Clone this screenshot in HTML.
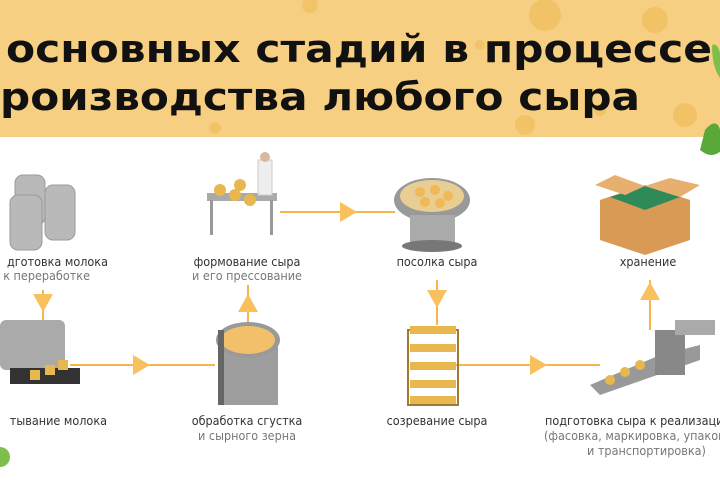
<!DOCTYPE html>
<html><head><meta charset="utf-8"><style>
html,body{margin:0;padding:0;background:#fff;width:720px;height:480px;overflow:hidden}
svg{display:block}
.t{font-family:"DejaVu Sans","Liberation Sans",sans-serif;font-weight:bold;font-size:38px;fill:#111}
.l{font-family:"DejaVu Sans Condensed","Liberation Sans",sans-serif;font-size:12.5px;fill:#333}
.s{fill:#777}
</style></head><body>
<svg width="720" height="480" viewBox="0 0 720 480">
<rect x="0" y="0" width="720" height="137" fill="#f6cf83"/>
<g fill="#f2c060" opacity="0.8">
<circle cx="545" cy="15" r="16"/><circle cx="655" cy="20" r="13"/><circle cx="525" cy="125" r="10"/><circle cx="685" cy="115" r="12"/><circle cx="310" cy="5" r="8"/><circle cx="480" cy="45" r="5"/><circle cx="600" cy="110" r="6"/><circle cx="215" cy="128" r="6"/></g>
<text class="t" x="6" y="62" textLength="706" lengthAdjust="spacingAndGlyphs">основных стадий в процессе</text>
<text class="t" x="0" y="110" textLength="640" lengthAdjust="spacingAndGlyphs">роизводства любого сыра</text>
<path d="M705 130 Q722 110 722 150 Q712 160 700 150Z" fill="#5aa83a"/>
<path d="M712 45 Q722 40 722 80 Q712 70 712 45Z" fill="#7dbf4a"/>
<circle cx="0" cy="457" r="10" fill="#7dbf4a"/>
<g stroke="#f6b64a" stroke-width="2" fill="none">
<path d="M43 290 V330"/><path d="M70 365 H215"/><path d="M248 330 V285"/><path d="M280 212 H395"/><path d="M437 280 V325"/><path d="M455 365 H600"/><path d="M650 330 V280"/>
</g>
<g fill="#f8c15e">
<path d="M33 294 H53 L43 312Z"/><path d="M133 355 V375 L150 365Z"/><path d="M238 312 H258 L248 294Z"/><path d="M340 202 V222 L357 212Z"/><path d="M427 290 H447 L437 308Z"/><path d="M530 355 V375 L547 365Z"/><path d="M640 300 H660 L650 282Z"/>
</g>
<g fill="#b9b9b9" stroke="#9a9a9a"><rect x="15" y="175" width="30" height="50" rx="8"/><rect x="45" y="185" width="30" height="55" rx="8"/><rect x="10" y="195" width="32" height="55" rx="8"/></g>
<rect x="207" y="193" width="70" height="8" fill="#aaa"/><rect x="210" y="200" width="3" height="35" fill="#999"/><rect x="270" y="200" width="3" height="35" fill="#999"/>
<g fill="#e8b84e"><circle cx="220" cy="190" r="6"/><circle cx="235" cy="195" r="6"/><circle cx="250" cy="200" r="6"/><circle cx="240" cy="185" r="6"/></g>
<rect x="258" y="160" width="14" height="35" fill="#eee" stroke="#ccc"/><circle cx="265" cy="157" r="5" fill="#d9b8a0"/>
<ellipse cx="432" cy="200" rx="38" ry="22" fill="#999"/><ellipse cx="432" cy="196" rx="32" ry="16" fill="#e9ce94"/><rect x="410" y="215" width="45" height="30" fill="#aaa"/><ellipse cx="432" cy="246" rx="30" ry="6" fill="#777"/>
<g fill="#f0b857"><circle cx="420" cy="192" r="5"/><circle cx="435" cy="190" r="5"/><circle cx="448" cy="196" r="5"/><circle cx="425" cy="202" r="5"/><circle cx="440" cy="203" r="5"/></g>
<path d="M600 200 L645 185 L690 200 L690 240 L645 255 L600 240Z" fill="#d99a55"/><path d="M610 197 L645 186 L680 197 L645 210Z" fill="#2f8a5a"/>
<path d="M595 185 L615 175 L645 186 L625 195Z M680 197 L700 185 L670 178 L645 186Z" fill="#e8b070"/>
<rect x="0" y="320" width="65" height="50" fill="#aaa" rx="6"/><rect x="10" y="368" width="70" height="16" fill="#333"/><g fill="#e8b84e"><rect x="30" y="370" width="10" height="10"/><rect x="45" y="365" width="10" height="10"/><rect x="58" y="360" width="10" height="10"/></g>
<rect x="218" y="345" width="60" height="60" fill="#9e9e9e"/><ellipse cx="248" cy="340" rx="32" ry="18" fill="#999"/><ellipse cx="248" cy="340" rx="27" ry="14" fill="#f2c06a"/><rect x="218" y="330" width="6" height="75" fill="#666"/>
<rect x="408" y="330" width="50" height="75" fill="none" stroke="#a07a30" stroke-width="2"/><g fill="#e8b84e"><rect x="410" y="326" width="46" height="8"/><rect x="410" y="344" width="46" height="8"/><rect x="410" y="362" width="46" height="8"/><rect x="410" y="380" width="46" height="8"/><rect x="410" y="396" width="46" height="8"/></g>
<path d="M590 385 L660 355 L700 345 L700 360 L600 395Z" fill="#999"/><rect x="655" y="330" width="30" height="45" fill="#888"/><rect x="675" y="320" width="40" height="15" fill="#aaa"/>
<g fill="#e8b84e"><circle cx="610" cy="380" r="5"/><circle cx="625" cy="372" r="5"/><circle cx="640" cy="365" r="5"/></g>
<g class="l">
<text x="108" y="266" text-anchor="end">дготовка молока</text><text x="90" y="280" text-anchor="end" class="l s">к переработке</text>
<text x="247" y="266" text-anchor="middle">формование сыра</text><text x="247" y="280" text-anchor="middle" class="l s">и его прессование</text>
<text x="437" y="266" text-anchor="middle">посолка сыра</text>
<text x="648" y="266" text-anchor="middle">хранение</text>
<text x="107" y="425" text-anchor="end">тывание молока</text>
<text x="247" y="425" text-anchor="middle">обработка сгустка</text><text x="247" y="440" text-anchor="middle" class="l s">и сырного зерна</text>
<text x="437" y="425" text-anchor="middle">созревание сыра</text>
<text x="545" y="425">подготовка сыра к реализации</text><text x="544" y="440" class="l s">(фасовка, маркировка, упаковка</text><text x="587" y="455" class="l s">и транспортировка)</text>
</g>
</svg>
</body></html>
